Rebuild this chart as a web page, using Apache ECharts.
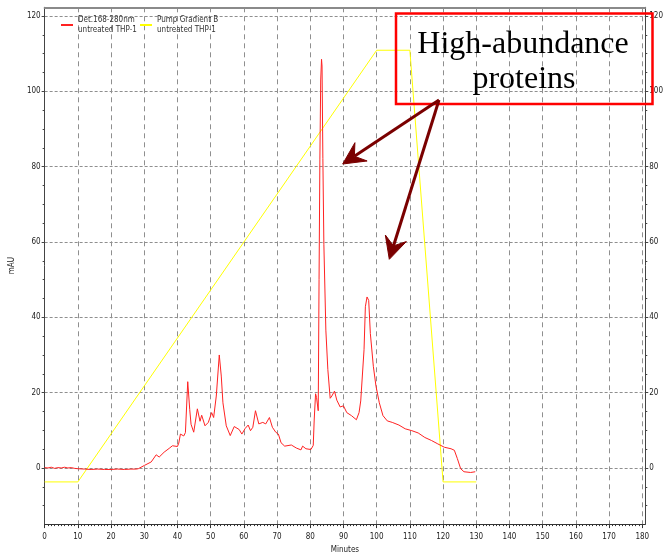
<!DOCTYPE html>
<html><head><meta charset="utf-8">
<script src="https://cdn.jsdelivr.net/npm/echarts@6/dist/echarts.min.js"></script>
<style>html,body{margin:0;padding:0;background:#fff}#c{width:666px;height:559px}</style>
</head><body><div id="c"></div>
<script>
// ---- data ----
const detTime = [0,1,2,3,4,5,6,7,8,9,10,12,14,16,18,20,22,24,26,27.5,28.2,30.1,32.1,33.6,34.5,36.0,37.5,38.5,40.0,40.4,40.9,41.9,42.4,43.1,43.7,44.1,44.9,45.4,46.0,46.8,47.3,48.3,49.3,50.3,50.9,51.7,52.6,53.2,53.7,54.7,55.9,57.1,58.6,59.4,60.4,61.3,62.0,62.7,63.5,64.5,65.7,66.6,67.7,68.6,69.6,70.4,71.2,72.3,74.3,75.8,77.2,77.7,78.7,80.2,80.9,81.2,81.6,81.9,82.4,82.65,82.9,83.15,83.4,83.55,83.8,84.1,84.7,85.3,86.0,86.5,87.3,88.0,89.0,90.0,91.0,92.4,93.9,94.4,94.7,95.2,95.6,96.2,96.6,97.1,97.6,98.1,99.0,99.8,100.8,101.9,103.2,104.7,106.7,108.6,110.6,112.5,114.5,116.5,118.4,120.4,122.4,123.4,124.3,125.3,126.3,128.3,129.7];
const detValue = [0.1,0.0,0.2,-0.1,0.1,0.0,0.2,0.0,0.1,-0.1,-0.2,-0.3,-0.4,-0.3,-0.4,-0.4,-0.3,-0.4,-0.3,-0.3,-0.2,0.7,1.6,3.5,2.9,4.2,5.2,5.9,5.7,6.6,9.0,8.5,9.4,22.9,15.5,11.6,9.5,9.6,15.7,12.4,14.0,11.2,12.1,14.7,13.4,19.1,30.0,24.4,17.3,11.2,8.6,11.0,10.2,9.0,10.5,11.4,9.9,10.8,15.2,11.7,12.1,11.7,13.4,10.8,9.5,9.0,6.7,5.8,6.1,5.3,4.8,5.8,5.1,4.9,6.0,13.0,19.7,18.7,15.2,50.0,82.0,103.0,108.5,106.7,82.2,59.4,36.6,26.1,18.5,19.1,20.4,18.0,16.2,16.5,14.7,13.9,12.8,12.5,14.7,17.8,17.5,31.4,42.8,45.4,44.5,35.7,27.0,21.7,17.3,13.9,12.5,12.1,11.4,10.4,9.9,9.3,8.1,7.3,6.4,5.5,5.1,4.7,2.5,-0.2,-1.0,-1.2,-1.0];
const gradTime = [0,10,100,110,120,130];
const gradValue = [-3.7,-3.7,110.9,110.9,-3.7,-3.7];
const xTickLabels = [0,10,20,30,40,50,60,70,80,90,100,110,120,130,140,150,160,170,180];
const yTickLabels = [0,20,40,60,80,100,120];
const seriesNames = ['Det.168-280nm\nuntreated THP-1','Pump Gradient B\nuntreated THP-1'];
const annotationLines = ['High-abundance','proteins'];

// ---- helpers ----
const FONT = '"Liberation Sans Narrow","DejaVu Sans Condensed","Arial Narrow",sans-serif';
const xMinor = [];
for (let v = 1; v <= 180; v++) if (v % 10) xMinor.push(v);
const yMinor = [];
for (let v = -10; v <= 120; v += 5) if (v % 20) yMinor.push(v);
const X_MIN = 0, X_MAX = 180.9, Y_MIN = -14.9, Y_MAX = 122.3;

const lblStyle = {fontFamily: FONT, fontSize: 8, color: '#222'};
function yAx(pos, opts) {
  return Object.assign({
    type: 'value', position: pos, min: Y_MIN, max: Y_MAX,
    axisLine: {show: true, onZero: false, lineStyle: {color: '#444', width: 1}},
    axisTick: {show: true, length: 3, customValues: yTickLabels, lineStyle: {color: '#444'}},
    axisLabel: Object.assign({show: true, margin: 4, customValues: yTickLabels}, lblStyle),
    splitLine: {show: false}
  }, opts);
}
function minorYAx(pos) {
  return {
    type: 'value', position: pos, min: Y_MIN, max: Y_MAX,
    axisLine: {show: false, onZero: false},
    axisTick: {show: true, length: 2, customValues: yMinor, lineStyle: {color: '#444'}},
    axisLabel: {show: false}, splitLine: {show: false}
  };
}

function arrowGraphics(x1, y1, x2, y2, color) {
  const dx = x2 - x1, dy = y2 - y1, len = Math.hypot(dx, dy);
  const ux = dx / len, uy = dy / len, px = -uy, py = ux;
  const L = 22, W = 11, N = 14;
  const bx = x2 - ux * L, by = y2 - uy * L, nx = x2 - ux * N, ny = y2 - uy * N;
  return [
    {type: 'line', shape: {x1, y1, x2: nx, y2: ny}, style: {stroke: color, lineWidth: 3}, z: 100},
    {type: 'polygon', shape: {points: [[x2, y2], [bx + px * W, by + py * W], [nx, ny], [bx - px * W, by - py * W]]},
      style: {fill: color, stroke: color, lineWidth: 1}, z: 100}
  ];
}

const chart = echarts.init(document.getElementById('c'), null, {renderer: 'canvas'});
const option = {
  animation: false,
  backgroundColor: '#fff',
  grid: {left: 40.9, right: 10.3, top: 7.3, bottom: 29.7, containLabel: false},
  legend: [
    {left: 56, top: 10, data: [seriesNames[0]], icon: 'rect', itemWidth: 12, itemHeight: 2, selectedMode: false,
      textStyle: {fontFamily: FONT, fontSize: 8, lineHeight: 10, color: '#333'}},
    {left: 135, top: 10, data: [seriesNames[1]], icon: 'rect', itemWidth: 12, itemHeight: 2, selectedMode: false,
      textStyle: {fontFamily: FONT, fontSize: 8, lineHeight: 10, color: '#333'}}
  ],
  xAxis: [
    {type: 'value', position: 'bottom', min: X_MIN, max: X_MAX,
      name: 'Minutes', nameLocation: 'middle', nameGap: 21,
      nameTextStyle: {fontFamily: FONT, fontSize: 8, color: '#222'},
      axisLine: {show: true, onZero: false, lineStyle: {color: '#333', width: 1.2}},
      axisTick: {show: true, length: 4, customValues: xTickLabels, lineStyle: {color: '#333'}},
      axisLabel: Object.assign({show: true, margin: 9, customValues: xTickLabels}, lblStyle),
      splitLine: {show: true, lineStyle: {color: '#8f8f8f', type: [5, 4], width: 1}}},
    {type: 'value', position: 'bottom', min: X_MIN, max: X_MAX,
      axisLine: {show: false, onZero: false},
      axisTick: {show: true, length: 2, customValues: xMinor, lineStyle: {color: '#333'}},
      axisLabel: {show: false}, splitLine: {show: false}},
    {type: 'value', position: 'top', min: X_MIN, max: X_MAX,
      axisLine: {show: true, onZero: false, lineStyle: {color: '#8a8a8a', width: 2}},
      axisTick: {show: false}, axisLabel: {show: false}, splitLine: {show: false}}
  ],
  yAxis: [
    yAx('left', {name: 'mAU', nameLocation: 'middle', nameGap: 28, nameRotate: 90,
      nameTextStyle: {fontFamily: FONT, fontSize: 8, color: '#222'},
      splitLine: {show: true, lineStyle: {color: '#8f8f8f', type: [3, 2], width: 1}}}),
    yAx('right', {}),
    minorYAx('left'),
    minorYAx('right')
  ],
  series: [
    {type: 'line', name: seriesNames[1], xAxisIndex: 0, yAxisIndex: 0,
      data: gradTime.map((t, i) => [t, gradValue[i]]),
      symbol: 'none', lineStyle: {color: '#ffff00', width: 1}, itemStyle: {color: '#ffff00'}, z: 2},
    {type: 'line', name: seriesNames[0], xAxisIndex: 0, yAxisIndex: 0,
      data: detTime.map((t, i) => [t, detValue[i]]),
      symbol: 'none', lineStyle: {color: '#ff2222', width: 1}, itemStyle: {color: '#ff2222'}, z: 3}
  ],
  graphic: [
    {type: 'rect', shape: {x: 396, y: 13.5, width: 256.5, height: 90.5},
      style: {fill: 'none', stroke: '#ff0000', lineWidth: 2.5}, z: 99},
    {type: 'text', x: 523, y: 44.2, style: {text: annotationLines[0], font: '32px "Liberation Serif","Times New Roman",serif',
      fill: '#000', textAlign: 'center', textVerticalAlign: 'middle'}, z: 99},
    {type: 'text', x: 524, y: 79.2, style: {text: annotationLines[1], font: '32px "Liberation Serif","Times New Roman",serif',
      fill: '#000', textAlign: 'center', textVerticalAlign: 'middle'}, z: 99},
    ...arrowGraphics(439, 100, 342.7, 164, '#7a0000'),
    ...arrowGraphics(439, 100, 389.3, 259.3, '#7a0000')
  ]
};
chart.setOption(option);
</script></body></html>
